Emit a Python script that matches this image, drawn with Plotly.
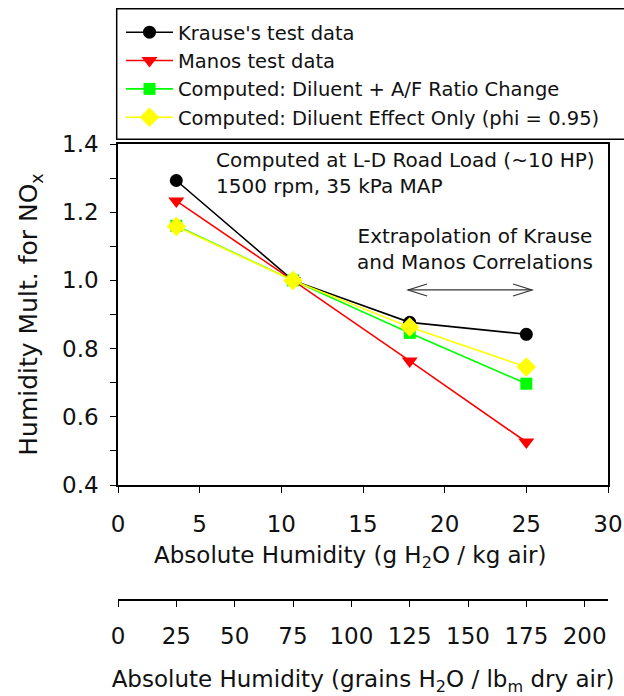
import plotly.graph_objects as go

# ---- data ----
humidity_g_per_kg = [3.57, 10.71, 17.86, 25.0]
krause = [1.293, 1.0, 0.877, 0.842]
manos = [1.233, 1.0, 0.764, 0.526]
computed_af = [1.160, 1.0, 0.846, 0.697]
computed_dil = [1.158, 1.0, 0.863, 0.746]

series_names = [
    "Krause's test data",
    "Manos test data",
    "Computed: Diluent + A/F Ratio Change",
    "Computed: Diluent Effect Only (phi = 0.95)",
]
series_colors = ["#000000", "#ff0000", "#00ff00", "#ffff00"]
series_symbols = ["circle", "triangle-down", "square", "diamond"]
series_sizes = [13, 14, 12, 15]

x_ticks = [0, 5, 10, 15, 20, 25, 30]
y_ticks = [0.4, 0.6, 0.8, 1.0, 1.2, 1.4]
grain_ticks = [0, 25, 50, 75, 100, 125, 150, 175, 200]

x_title = "Absolute Humidity (g H<sub>2</sub>O / kg air)"
x2_title = "Absolute Humidity (grains H<sub>2</sub>O / lb<sub>m</sub> dry air)"
y_title = "Humidity Mult. for NO<sub>x</sub>"

arrow_x = [17.76, 25.35]
arrow_y = 0.972

FONT = "DejaVu Sans"
TXT = "#111"

fig = go.Figure()
for vals, name, col, sym, sz in zip(
    [krause, manos, computed_af, computed_dil],
    series_names, series_colors, series_symbols, series_sizes,
):
    fig.add_trace(go.Scatter(
        x=humidity_g_per_kg, y=vals, name=name, mode="lines+markers",
        line=dict(color=col, width=1.6),
        marker=dict(symbol=sym, size=sz, color=col, line=dict(width=0)),
    ))

# helper trace to host the secondary (grains) axis
fig.add_trace(go.Scatter(x=[0, 210], y=[None, None], xaxis="x2",
                         showlegend=False, hoverinfo="skip", mode="markers"))

W, H = 624, 696
ml, mr, mt, mb = 118, 16, 144, 96
ph = H - mt - mb
pw = W - ml - mr
dom_bottom = (600 - 485) / ph

axis_common = dict(showline=True, linecolor="black", linewidth=1.5,
                   ticks="outside", ticklen=6, tickwidth=1.3, tickcolor="black",
                   showgrid=False, zeroline=False, automargin=False,
                   tickfont=dict(family=FONT, size=23, color=TXT))

fig.update_layout(
    template="none",
    width=W, height=H,
    margin=dict(l=ml, r=mr, t=mt, b=mb, pad=0, autoexpand=False),
    paper_bgcolor="white", plot_bgcolor="white",
    font=dict(family=FONT, color=TXT),
    showlegend=True,
    legend=dict(x=(121 - ml) / pw, y=(600 - 13) / ph, xanchor="left", yanchor="top",
                bgcolor="rgba(0,0,0,0)", borderwidth=0,
                font=dict(family=FONT, size=19.5, color=TXT),
                itemwidth=47, tracegroupgap=0),
    xaxis=dict(range=[0, 30], tickvals=x_ticks, mirror=True,
               anchor="y", ticklabelstandoff=12,
               **axis_common),
    yaxis=dict(range=[0.4, 1.4], tickvals=y_ticks, ticktext=[f"{v:.1f}" for v in y_ticks],
               domain=[dom_bottom, 1], mirror=True,
               minor=dict(dtick=0.1, ticks="outside", ticklen=6, tickwidth=1.3, tickcolor="black"),
               ticklabelstandoff=7,
               title=dict(text=y_title,
                          font=dict(family=FONT, size=25, color=TXT),
                          standoff=17),
               **axis_common),
    xaxis2=dict(range=[0, 210], tickvals=grain_ticks, overlaying="x",
                anchor="free", position=0, side="bottom", ticklabelstandoff=10,
                title=dict(text=x2_title,
                           font=dict(family=FONT, size=23, color=TXT),
                           standoff=23),
                **axis_common),
)

# primary x-axis title (offset left of the axis centre, as in the reference)
fig.add_annotation(x=(350 - ml) / pw, y=(600 - 557) / ph, xref="paper", yref="paper",
                   xanchor="center", yanchor="middle", showarrow=False,
                   text=x_title, font=dict(family=FONT, size=23, color=TXT))

# legend frame (extends beyond right edge like the reference)
fig.add_shape(type="rect", xref="paper", yref="paper",
              x0=(116.7 - ml) / pw, x1=1.2,
              y0=(600 - 139.3) / ph, y1=(600 - 8.8) / ph,
              line=dict(color="black", width=1.5), fillcolor="rgba(0,0,0,0)")

# annotations
fig.add_annotation(x=5.88, y=1.315, xref="x", yref="y", xanchor="left", yanchor="middle",
                   align="left", showarrow=False,
                   text="Computed at L-D Road Load (~10 HP)<br>1500 rpm, 35 kPa MAP",
                   font=dict(family=FONT, size=20, color=TXT))
fig.add_annotation(x=21.83, y=1.093, xref="x", yref="y", xanchor="center", yanchor="middle",
                   align="center", showarrow=False,
                   text="Extrapolation of Krause<br>and Manos Correlations",
                   font=dict(family=FONT, size=20, color=TXT))

# double-headed open arrow
fig.add_shape(type="line", xref="x", yref="y", x0=arrow_x[0], x1=arrow_x[1],
              y0=arrow_y, y1=arrow_y, line=dict(color="#333", width=1.2))
fig.add_shape(type="path", xref="x", yref="y", xsizemode="pixel", ysizemode="pixel",
              xanchor=arrow_x[0], yanchor=arrow_y, path="M19,6 L0,0 L19,-6",
              line=dict(color="#333", width=1.2))
fig.add_shape(type="path", xref="x", yref="y", xsizemode="pixel", ysizemode="pixel",
              xanchor=arrow_x[1], yanchor=arrow_y, path="M-19,6 L0,0 L-19,-6",
              line=dict(color="#333", width=1.2))

fig.write_html("out.html", config={"displayModeBar": False},
               post_script="document.body.style.margin='0px';document.body.style.overflow='hidden';")
